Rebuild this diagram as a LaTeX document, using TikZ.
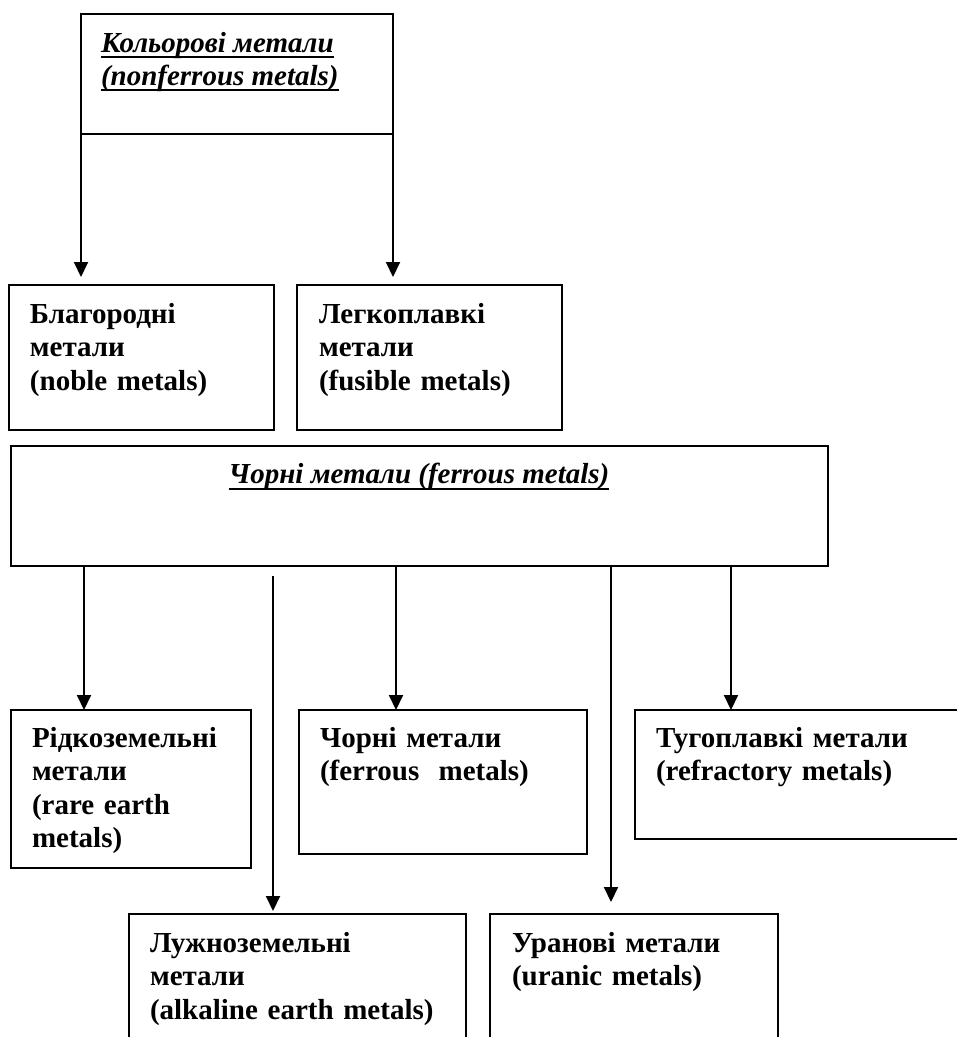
\documentclass[tikz,border=0pt]{standalone}
\usepackage{fontspec}
\setmainfont{Liberation Serif}
\usetikzlibrary{arrows.meta,fit,calc}
\begin{document}
\begin{tikzpicture}[x=1pt,y=-1pt,
  box/.style={draw, line width=1.5pt, rectangle, inner sep=0pt, outer sep=0pt},
  txt/.style={inner sep=0pt, outer sep=0pt, anchor=base west, text width=420pt, align=left,
    font=\fontsize{29}{33.5}\selectfont\bfseries},
  ttl/.style={inner sep=0pt, outer sep=0pt, font=\fontsize{29}{33.5}\selectfont\bfseries\itshape},
  ul/.style={line width=2pt},
  arr/.style={line width=2pt, -{Triangle[width=14pt,length=15pt]}},
  plain/.style={line width=2pt}]
\useasboundingbox (0,0) rectangle (957,1037);
\clip (0,0) rectangle (957,1037);

% boxes
\node[box, fit={(81,14)(393,134)}] (kol) {};
\node[box, fit={(9,285)(274,430)}] (blag) {};
\node[box, fit={(297,285)(562,430)}] (legk) {};
\node[box, fit={(11,446)(828,566)}] (chor) {};
\node[box, fit={(11,710)(251,868)}] (ridk) {};
\node[box, fit={(299,710)(587,854)}] (chm) {};
\node[box, fit={(635,710)(975,839)}] (tug) {};
\node[box, fit={(129,914)(466,1060)}] (luzh) {};
\node[box, fit={(490,914)(778,1060)}] (uran) {};

% titles
\node[ttl, anchor=base west] (k1) at (101,52) {Кольорові метали};
\node[ttl, anchor=base west] (k2) at (101,85) {(nonferrous metals)};
\draw[ul] ([yshift=-5pt]k1.base west) -- ([yshift=-5pt]k1.base east);
\draw[ul] ([yshift=-5pt]k2.base west) -- ([yshift=-5pt]k2.base east);
\node[ttl, anchor=base] (c1) at (419,483) {Чорні метали (ferrous metals)};
\draw[ul] ([yshift=-6pt]c1.base west) -- ([yshift=-6pt]c1.base east);

% box texts
\node[txt] (tblag) at (30,323) {Благородні\\метали\\(noble metals)};
\node[txt] (tlegk) at (319,323) {Легкоплавкі\\метали\\(fusible metals)};
\node[txt] (tridk) at (32,747) {Рідкоземельні\\метали\\(rare earth\\metals)};
\node[txt] (tchm) at (320,747) {Чорні метали\\(ferrous\ \ metals)};
\node[txt] (ttug) at (656,747) {Тугоплавкі метали\\(refractory metals)};
\node[txt] (tluzh) at (150,952) {Лужноземельні\\метали\\(alkaline earth metals)};
\node[txt] (turan) at (512,952) {Уранові метали\\(uranic metals)};

% connectors
\draw[arr, shorten >=8pt] (kol.south west) -- (kol.south west |- blag.north);
\draw[arr, shorten >=8pt] (kol.south east) -- (kol.south east |- legk.north);

\coordinate (x1) at (84,0);
\coordinate (x2) at (396,0);
\coordinate (x3) at (731,0);
\coordinate (s4) at (273,576);
\coordinate (x5) at (611,0);
\draw[arr] (x1 |- chor.south) -- (x1 |- ridk.north);
\draw[arr] (x2 |- chor.south) -- (x2 |- chm.north);
\draw[arr] (x3 |- chor.south) -- (x3 |- tug.north);
\draw[arr, shorten >=3pt] (s4) -- (s4 |- luzh.north);
\draw[arr, shorten >=12pt] (x5 |- chor.south) -- (x5 |- uran.north);
\end{tikzpicture}
\end{document}
